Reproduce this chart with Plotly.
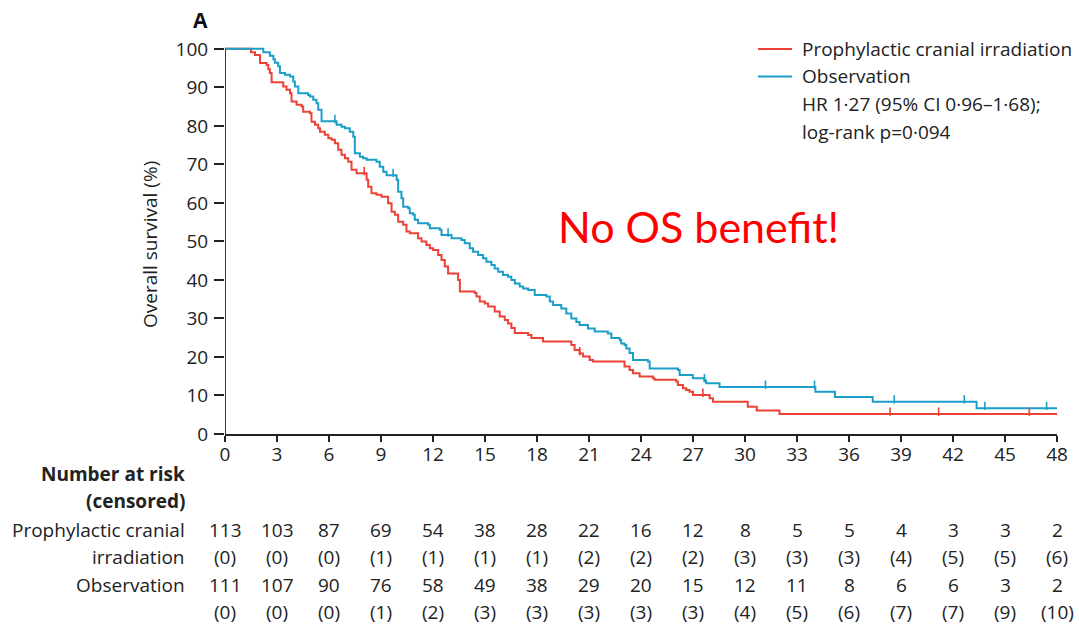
import plotly.graph_objects as go

# ---- data -------------------------------------------------------------
months = list(range(0, 49, 3))

# Kaplan-Meier steps: time of each drop (months) and survival after it (%)
pci_time = [0, 1.50, 1.73, 2.02, 2.40, 2.50, 2.59, 2.69, 3.36, 3.55, 3.75, 3.84, 4.13, 4.42,
            4.51, 4.90, 4.99, 5.19, 5.38, 5.48, 5.76, 5.96, 6.15, 6.34, 6.53, 6.72, 6.92,
            7.11, 7.30, 7.59, 8.17, 8.26, 8.45, 8.74, 9.03, 9.41, 9.61, 9.80, 9.99, 10.28,
            10.47, 10.66, 11.14, 11.34, 11.62, 11.82, 12.01, 12.30, 12.49, 12.68, 12.87,
            13.45, 13.55, 14.41, 14.51, 14.70, 14.99, 15.18, 15.56, 15.85, 16.14, 16.33,
            16.52, 16.72, 17.49, 17.68, 18.35, 19.98, 20.17, 20.46, 20.65, 21.04, 21.23,
            23.05, 23.34, 23.54, 23.92, 24.69, 24.78, 26.03, 26.13, 26.42, 26.61, 26.80,
            27.00, 27.96, 28.15, 30.16, 30.68, 31.99, 48.0]
pci_surv = [100, 99.1, 98.4, 96.3, 95.8, 94.7, 93.7, 91.3, 90.2, 89.4, 88.5, 86.3, 85.5, 85.0,
            83.7, 83.3, 81.1, 80.3, 79.4, 78.5, 77.7, 76.8, 76.4, 75.5, 73.8, 72.5, 71.6,
            70.7, 68.6, 67.7, 66.0, 64.2, 62.5, 62.1, 61.6, 59.9, 57.7, 56.9, 55.1, 54.3,
            52.6, 52.1, 50.8, 50.0, 49.1, 48.2, 47.8, 46.5, 45.2, 43.5, 41.7,
            40.0, 37.0, 36.6, 35.7, 34.4, 33.9, 33.1, 31.8, 30.5, 29.6, 28.7,
            27.5, 26.2, 25.7, 24.9, 24.0, 23.1, 21.8, 20.9, 20.1, 19.2, 18.8,
            17.5, 16.6, 15.8, 14.9, 14.5, 14.1, 13.6, 12.7, 11.9, 11.4, 11.0,
            10.1, 9.3, 8.4, 7.1, 6.1, 5.2, 5.2]
pci_cens_time = [8.03, 20.46, 27.57, 38.37, 41.17, 46.40]
pci_cens_surv = [67.7, 20.9, 10.1, 5.2, 5.2, 5.2]

obs_time = [0, 2.21, 2.59, 2.79, 2.88, 3.07, 3.17, 3.46, 3.75, 3.94, 4.03, 4.23, 4.80, 4.90,
            5.09, 5.28, 5.38, 5.57, 6.44, 6.72, 6.92, 7.20, 7.40, 7.49, 7.78, 7.97, 8.17,
            8.74, 8.93, 9.13, 9.32, 9.90, 9.99, 10.18, 10.28, 10.57, 10.66, 10.86, 10.95,
            11.14, 11.72, 11.82, 12.39, 12.49, 13.07, 13.64, 13.83, 14.12, 14.31, 14.60,
            14.89, 15.08, 15.37, 15.56, 15.76, 16.04, 16.33, 16.52, 16.72, 17.00, 17.20,
            17.49, 17.87, 18.54, 18.74, 18.93, 19.40, 19.69, 19.98, 20.27, 20.46, 20.94,
            21.33, 22.09, 22.29, 22.77, 22.86, 23.05, 23.15, 23.34, 23.54, 24.40, 24.50,
            26.13, 26.23, 26.99, 27.66, 27.76, 28.53, 34.06, 35.19, 37.37, 43.36, 48.0]
obs_surv = [100, 99.1, 98.2, 97.3, 96.4, 95.5, 93.7, 93.3, 92.8, 91.5, 90.2, 88.5, 88.0, 87.6,
            86.8, 85.9, 84.2, 81.2, 80.3, 79.8, 79.4, 78.5, 77.2, 72.9, 72.0, 71.6, 71.2,
            70.7, 69.4, 68.1, 67.2, 66.0, 62.9, 61.2, 59.0, 58.6, 57.3, 56.9, 55.6,
            54.7, 54.3, 53.4, 53.0, 51.7, 50.8, 50.4, 49.5, 48.2, 47.3, 46.5,
            45.6, 44.7, 43.9, 43.0, 42.1, 41.3, 40.8, 40.0, 39.1, 38.3, 37.8,
            37.4, 36.1, 35.7, 34.4, 33.5, 32.6, 31.3, 30.0, 29.1, 28.3, 27.4,
            26.6, 26.1, 24.9, 24.4, 23.5, 23.1, 22.2, 21.0, 19.2, 18.8, 17.0,
            16.6, 15.3, 14.5, 13.9, 13.2, 12.2, 11.0, 9.6, 8.4, 6.7, 6.7]
obs_cens_time = [6.34, 9.70, 12.87, 27.66, 31.18, 34.01, 38.61, 42.65, 43.84, 47.40]
obs_cens_surv = [81.2, 67.2, 51.7, 13.9, 12.2, 12.2, 8.4, 8.4, 6.7, 6.7]

pci_at_risk = [113, 103, 87, 69, 54, 38, 28, 22, 16, 12, 8, 5, 5, 4, 3, 3, 2]
pci_censored = [0, 0, 0, 1, 1, 1, 1, 2, 2, 2, 3, 3, 3, 4, 5, 5, 6]
obs_at_risk = [111, 107, 90, 76, 58, 49, 38, 29, 20, 15, 12, 11, 8, 6, 6, 3, 2]
obs_censored = [0, 0, 0, 1, 2, 3, 3, 3, 3, 3, 4, 5, 6, 7, 7, 9, 10]

pci_name = "Prophylactic cranial irradiation"
obs_name = "Observation"
stats_lines = ["HR 1·27 (95% CI 0·96–1·68);", "log-rank p=0·094"]

# ---- style --------------------------------------------------------------
RED = "#EE4136"
BLUE = "#1B9FC9"
INK = "#222222"
FONT = "Open Sans"
FS = 19
W, H = 1079, 630
L, R, T, B = 225, 22, 45, 196
PW, PH = W - L - R, H - T - B


def px_x(p):
    return (p - L) / PW


def px_y(p):
    return (H - B - p) / PH


def label(x, y, text, size=FS, color=INK, family=FONT, xanchor="center", **kw):
    d = dict(x=px_x(x), y=px_y(y), xref="paper", yref="paper", text=text,
             xanchor=xanchor, yanchor="middle", showarrow=False,
             font=dict(size=size, color=color, family=family))
    d.update(kw)
    return d


fig = go.Figure()

for t, s, color, name in [(pci_time, pci_surv, RED, pci_name),
                          (obs_time, obs_surv, BLUE, obs_name)]:
    fig.add_trace(go.Scatter(x=t, y=s, mode="lines", name=name,
                             line=dict(color=color, width=2, shape="hv"),
                             showlegend=False, cliponaxis=False))

# censoring marks: short upward ticks sitting on the curve
for t, s, color in [(pci_cens_time, pci_cens_surv, RED),
                    (obs_cens_time, obs_cens_surv, BLUE)]:
    fig.add_trace(go.Scatter(x=t, y=[v + 0.6 for v in s], mode="markers",
                             marker=dict(symbol="line-ns", size=6,
                                         line=dict(color=color, width=1.6)),
                             showlegend=False, hoverinfo="skip"))

# y axis line from 0 to 100
fig.add_shape(type="line", xref="x", yref="y", x0=0, x1=0, y0=0, y1=100,
              line=dict(color=INK, width=1.8))

ann = []
# legend
for i, (name, color) in enumerate([(pci_name, RED), (obs_name, BLUE)]):
    y = 49 + i * 27.5
    fig.add_shape(type="line", xref="paper", yref="paper",
                  x0=px_x(758), x1=px_x(792), y0=px_y(y), y1=px_y(y),
                  line=dict(color=color, width=2))
    ann.append(label(800, y, name, xanchor="left"))
for i, line in enumerate(stats_lines):
    ann.append(label(800, 104 + i * 27.5, line, xanchor="left"))

# panel letter, axis title, call-out
ann.append(label(200, 20, "<b>A</b>", size=21, color="#111"))
ann.append(label(150, 245, "Overall survival (%)", textangle=-90))
ann.append(label(698, 226, "No OS benefit!", size=43, color="#FF0000", family="Lato"))

# number-at-risk table
row_labels = [("<b>Number at risk</b>", 474), ("<b>(censored)</b>", 501),
              ("Prophylactic cranial", 530), ("irradiation", 557), ("Observation", 585)]
for text, y in row_labels:
    ann.append(label(187, y, text, xanchor="right"))
rows = [(pci_at_risk, 530, "{}"), (pci_censored, 557, "({})"),
        (obs_at_risk, 585, "{}"), (obs_censored, 612, "({})")]
for values, y, fmt in rows:
    for m, v in zip(months, values):
        ann.append(dict(x=m, y=px_y(y), xref="x", yref="paper", text=fmt.format(v),
                        xanchor="center", yanchor="middle", showarrow=False,
                        font=dict(size=FS, color=INK, family=FONT)))

fig.update_layout(
    width=W, height=H, autosize=False,
    margin=dict(l=L, r=R, t=T, b=B),
    paper_bgcolor="white", plot_bgcolor="white",
    font=dict(family=FONT, size=FS, color=INK),
    annotations=ann,
    xaxis=dict(range=[0, 48], tickvals=months, ticks="outside", ticklen=6,
               tickwidth=1.6, tickcolor=INK, showline=True, linecolor=INK,
               linewidth=1.8, showgrid=False, zeroline=False, ticklabelstandoff=-4,
               tickfont=dict(size=FS, color=INK, family=FONT)),
    yaxis=dict(range=[0, 101], tickvals=list(range(0, 101, 10)), ticks="outside",
               ticklen=10, tickwidth=1.6, tickcolor=INK, showline=False,
               showgrid=False, zeroline=False, ticklabelstandoff=2,
               tickfont=dict(size=FS, color=INK, family=FONT)),
)

fig.write_html("out.html")
